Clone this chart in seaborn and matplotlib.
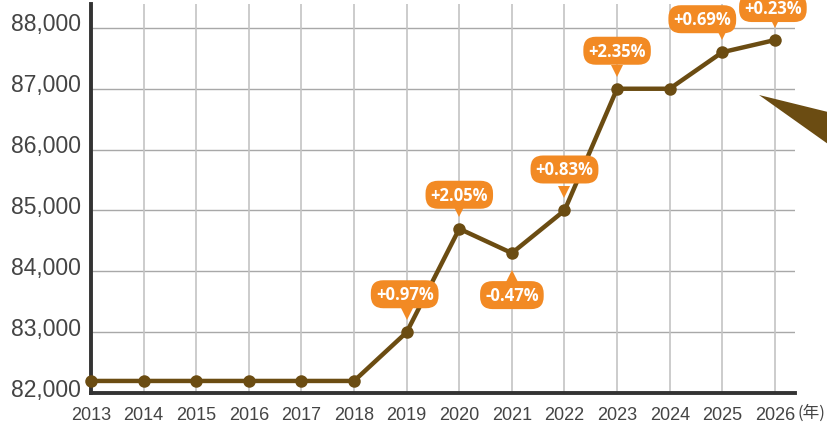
import matplotlib
matplotlib.use("Agg")
import matplotlib.pyplot as plt
import matplotlib.transforms as mtransforms
from matplotlib.patches import Polygon
import pandas as pd
import seaborn as sns

# data
years = list(range(2013, 2027))
values = [82200, 82200, 82200, 82200, 82200, 82200, 83000,
          84700, 84300, 85000, 87000, 87000, 87600, 87800]
change_years = [2019, 2020, 2021, 2022, 2023, 2025, 2026]
change_labels = ["+0.97%", "+2.05%", "-0.47%", "+0.83%", "+2.35%", "+0.69%", "+0.23%"]
y_ticks = [82000, 83000, 84000, 85000, 86000, 87000, 88000]

BROWN = "#6b4c12"
ORANGE = "#f28a24"
TEXT = "#444444"

sns.set_style("white")
plt.rcParams["font.family"] = ["Liberation Sans", "DejaVu Sans"]

df = pd.DataFrame({"year": years, "value": values})

fig = plt.figure(figsize=(8.28, 4.27), dpi=100)
ax = fig.add_axes([0.110, 0.077, 0.850, 0.911])

ax.set_xlim(2013, 2026.38)
ax.set_ylim(82000, 88390)
ax.set_xticks(years)
ax.set_yticks(y_ticks)

# grid
for yv in y_ticks[1:]:
    ax.axhline(yv, color="#a8a8a8", lw=1, zorder=0)
for xv in years[1:]:
    ax.axvline(xv, color="#c4c4c4", lw=1.2, zorder=0)

sns.lineplot(data=df, x="year", y="value", ax=ax, color=BROWN, lw=3.2,
             marker="o", markersize=9, markeredgewidth=0, clip_on=False, zorder=5)

for sp in ["top", "right"]:
    ax.spines[sp].set_visible(False)
ax.spines["left"].set_color("#333333")
ax.spines["left"].set_linewidth(2.8)
ax.spines["bottom"].set_color("#333333")
ax.spines["bottom"].set_linewidth(2.8)

ax.tick_params(axis="both", length=0)
ax.tick_params(axis="y", pad=7)
ax.tick_params(axis="x", pad=9)
ax.set_yticklabels([f"{v:,}" for v in y_ticks], fontsize=16.5, color=TEXT)
ax.set_xticklabels([str(y) for y in years], fontsize=13, color=TEXT)
shift = mtransforms.ScaledTranslation(0, 0.065, fig.dpi_scale_trans)
for lab in ax.get_yticklabels():
    lab.set_transform(lab.get_transform() + shift)
ax.set_xlabel("")
ax.set_ylabel("")

# change badges (box offset in pixels from the point)
box_offsets = {
    2019: (-2, 38), 2020: (0, 34), 2021: (0, -42), 2022: (0, 41),
    2023: (0, 38), 2025: (-20, 33), 2026: (-2, 32),
}
val_by_year = dict(zip(years, values))
for yr, lab in zip(change_years, change_labels):
    v = val_by_year[yr]
    dx, dy = box_offsets[yr]
    ax.annotate(lab, xy=(yr, v), xytext=(dx * 0.72, dy * 0.72),
                textcoords="offset points", ha="center", va="center",
                fontsize=12, fontweight="bold", color="white",
                family=["Open Sans", "DejaVu Sans"],
                bbox=dict(boxstyle="round,pad=0.3,rounding_size=0.75",
                          fc=ORANGE, ec="none"),
                zorder=7, annotation_clip=False)
    sign = 1 if dy > 0 else -1
    tip = 12 if sign > 0 else 17
    tri = mtransforms.ScaledTranslation(0, sign * (tip + 6) / 100, fig.dpi_scale_trans)
    ax.plot([yr], [v], marker="v" if sign > 0 else "^", ms=9, color=ORANGE,
            mew=0, transform=ax.transData + tri, clip_on=False, zorder=6)

# unit label
fig.text(798 / 828, 1 - 413 / 427, "(年)", fontsize=12, color=TEXT,
         va="center", ha="left", family=["Noto Sans CJK JP", "DejaVu Sans"])

# dark wedge at right edge
W, H = 828, 427
wedge = Polygon([(759 / W, 1 - 96 / H), (1.0, 1 - 113 / H), (1.0, 1 - 145 / H)],
                closed=True, transform=fig.transFigure, fc=BROWN, ec="none")
fig.patches.append(wedge)

fig.savefig("out.png", dpi=100)
